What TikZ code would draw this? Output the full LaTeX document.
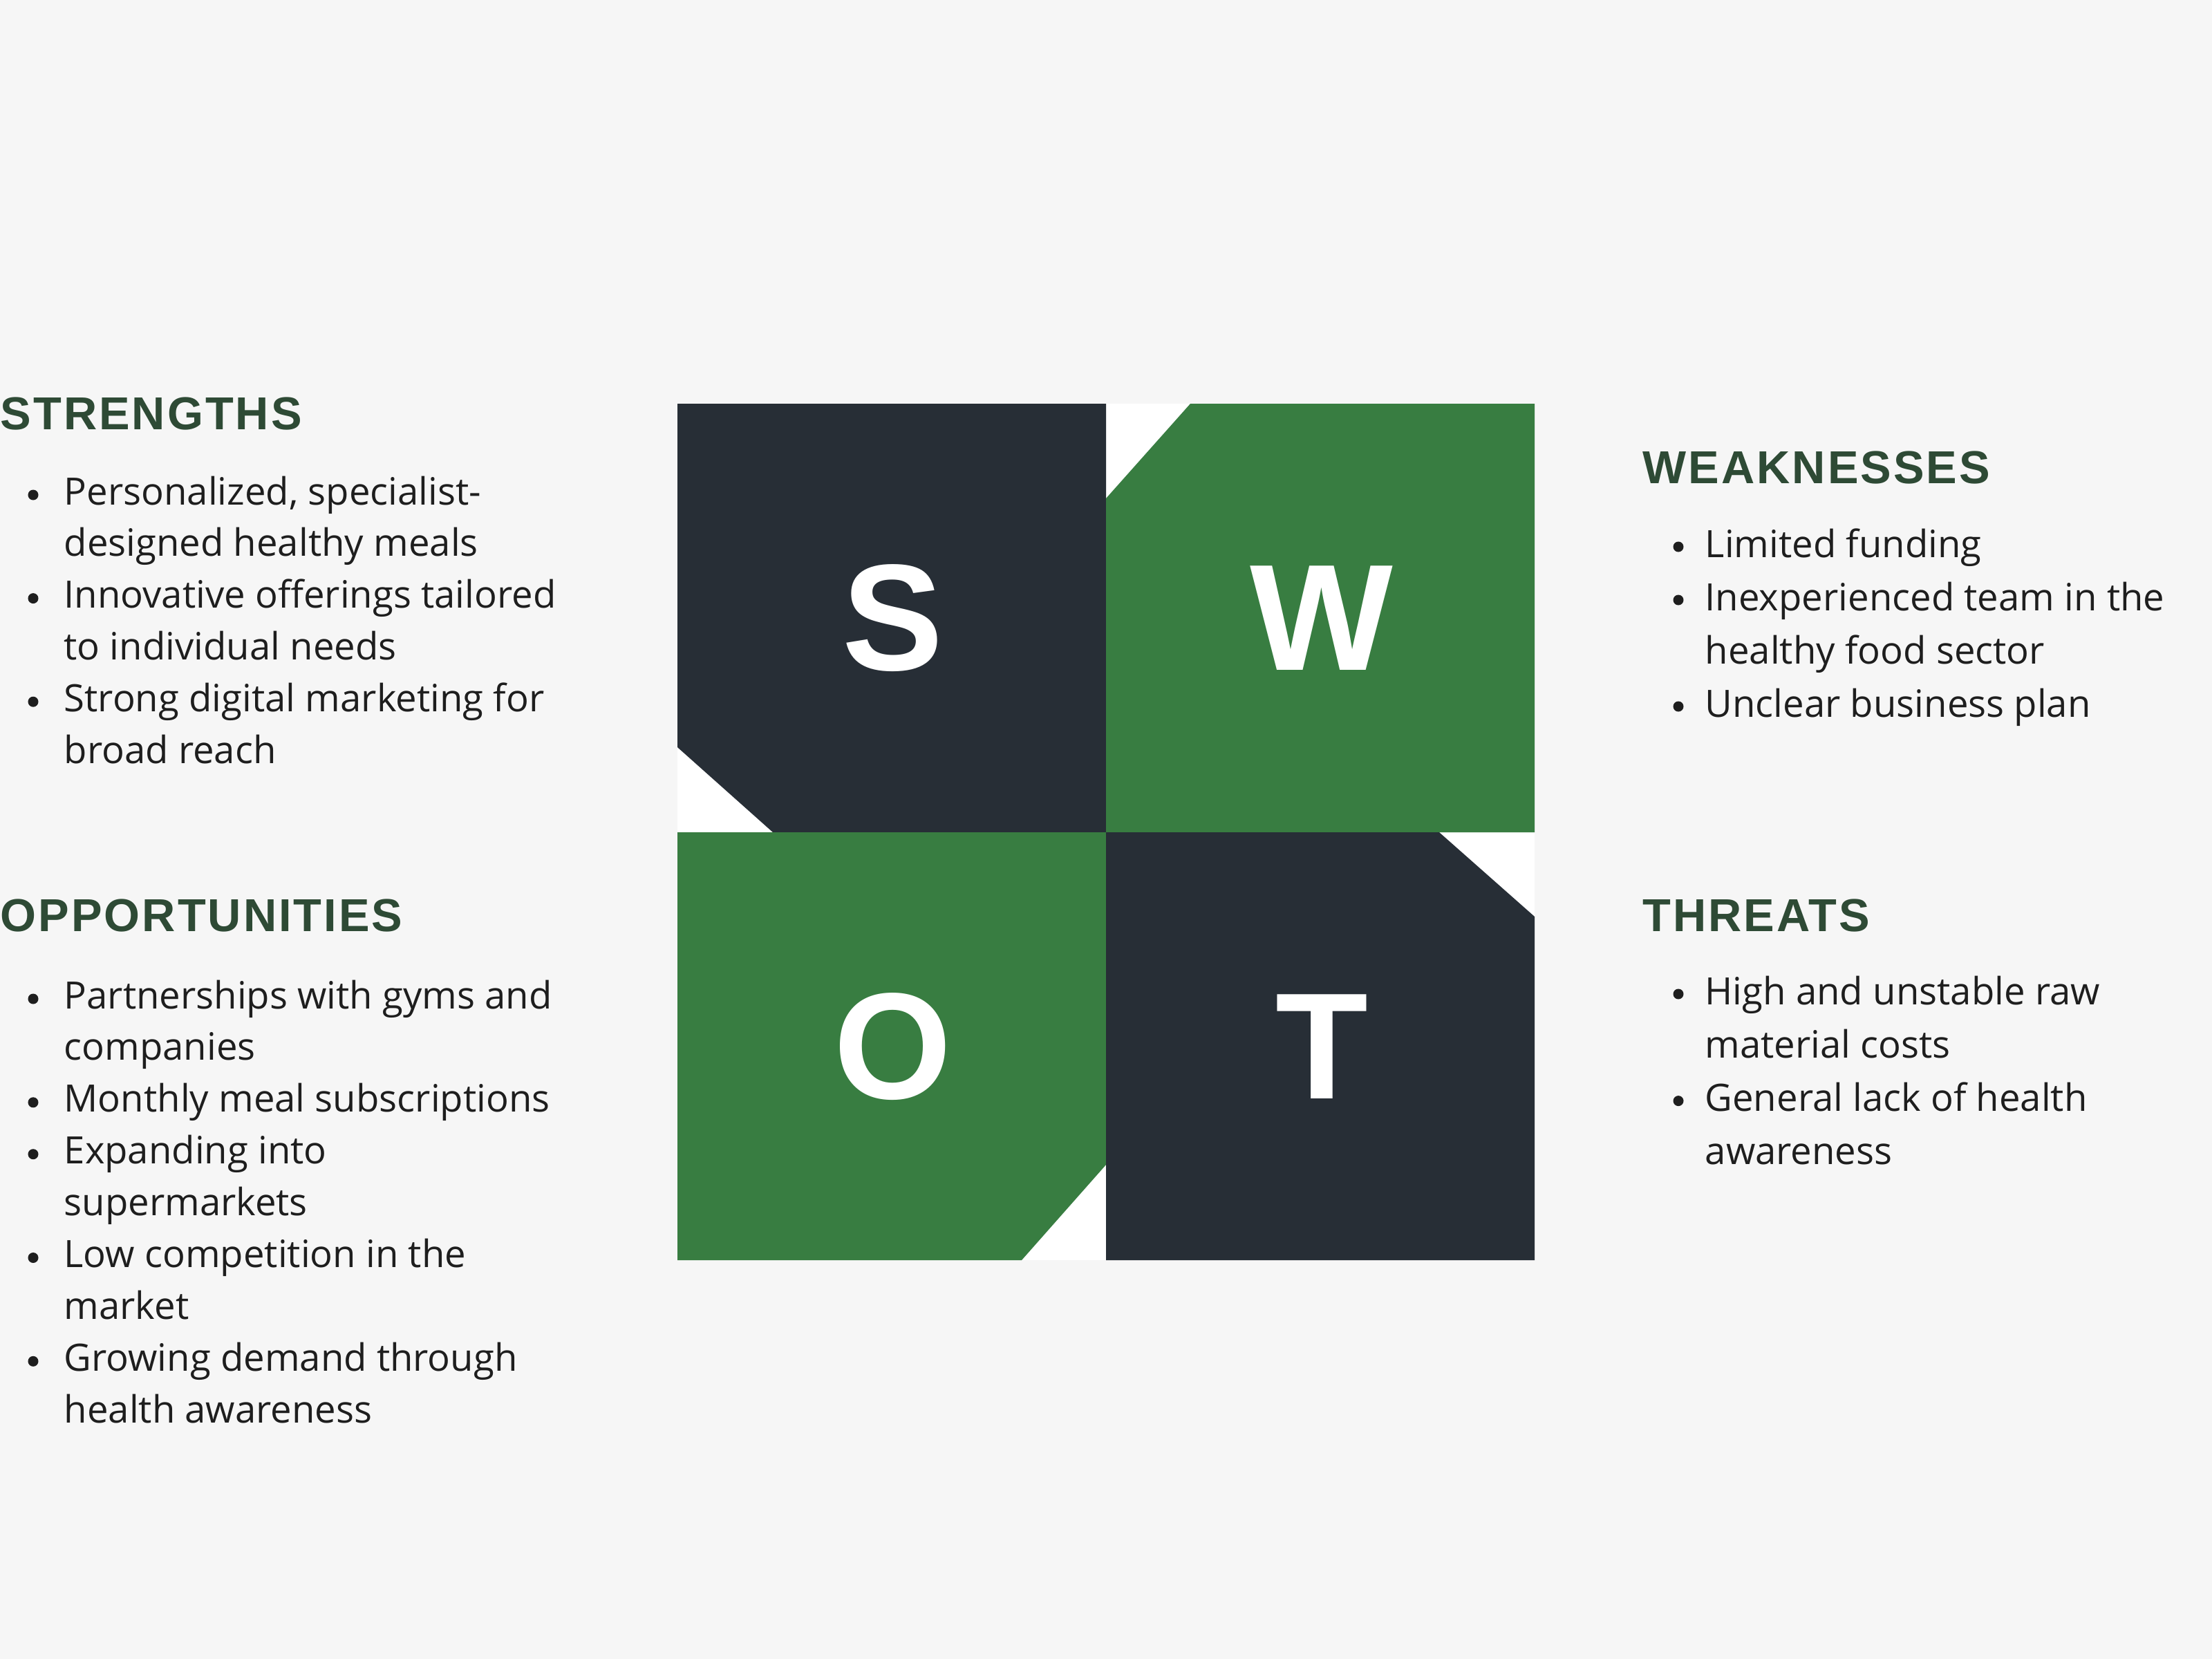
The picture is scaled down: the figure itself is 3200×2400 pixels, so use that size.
\documentclass[tikz,border=0pt]{standalone}
\usepackage{fontspec}
\setmainfont{Open Sans}
\newfontfamily\headfont{Liberation Sans}[LetterSpace=4.5]
\newfontfamily\letterfont{Liberation Sans}
\definecolor{SwotPaper}{HTML}{F6F6F6}
\definecolor{SwotDark}{HTML}{272E36}
\definecolor{SwotGreen}{HTML}{387D41}
\definecolor{SwotHead}{HTML}{2E4A35}
\definecolor{SwotInk}{HTML}{1E1E1E}

\begin{document}
\begin{tikzpicture}[x=0.01cm, y=-0.01cm,
    heading/.style={anchor=base west, inner sep=0pt, text=SwotHead,
        font=\headfont\bfseries\fontsize{19}{23}\selectfont},
    item/.style={anchor=base west, inner sep=0pt, text=SwotInk,
        font=\fontsize{15.5}{18}\selectfont},
    dot/.style={circle, fill=SwotInk, inner sep=0pt, minimum size=0.15cm},
    bigletter/.style={text=white, inner sep=0pt,
        font=\letterfont\bfseries\fontsize{62.3}{70}\selectfont}]

    % Background (fixes the page size)
    \fill[SwotPaper] (0,0) rectangle (3200,2400);

    % ========== SWOT square ==========
    \fill[white] (980,584) rectangle (2220,1823);
    % S
    \fill[SwotDark] (980,584) -- (1600,584) -- (1600,1204) -- (1118,1204) -- (980,1081) -- cycle;
    % W
    \fill[SwotGreen] (1600,721) -- (1722,584) -- (2220,584) -- (2220,1204) -- (1600,1204) -- cycle;
    % O
    \fill[SwotGreen] (980,1204) -- (1600,1204) -- (1600,1685) -- (1478,1823) -- (980,1823) -- cycle;
    % T
    \fill[SwotDark] (1600,1204) -- (2082,1204) -- (2220,1326) -- (2220,1823) -- (1600,1823) -- cycle;

    \node[bigletter] (S) at (1292,894) {S};
    \node[bigletter] (W) at (1912,894) {W};
    \node[bigletter] (O) at (1292,1514) {O};
    \node[bigletter] (T) at (1912,1514) {T};

    % ========== LEFT: Strengths ==========
    \node[heading] (strengths) at (0,621) {STRENGTHS};
    \foreach \txt/\b [count=\i] in {{Personalized, specialist-}/1, {designed healthy meals}/0,
        {Innovative offerings tailored}/1, {to individual needs}/0,
        {Strong digital marketing for}/1, {broad reach}/0} {
        \node[item] (str-\i) at (92,{730+74.8*(\i-1)}) {\txt};
        \ifnum\b=1 \node[dot] (str-dot-\i) at (48,{716+74.8*(\i-1)}) {}; \fi
    }

    % ========== LEFT: Opportunities ==========
    \node[heading] (opportunities) at (0,1347) {OPPORTUNITIES};
    \foreach \txt/\b [count=\i] in {{Partnerships with gyms and}/1, {companies}/0,
        {Monthly meal subscriptions}/1, {Expanding into}/1, {supermarkets}/0,
        {Low competition in the}/1, {market}/0,
        {Growing demand through}/1, {health awareness}/0} {
        \node[item] (opp-\i) at (92,{1459+74.9*(\i-1)}) {\txt};
        \ifnum\b=1 \node[dot] (opp-dot-\i) at (48,{1445+74.9*(\i-1)}) {}; \fi
    }

    % ========== RIGHT: Weaknesses ==========
    \node[heading] (weaknesses) at (2376,699) {WEAKNESSES};
    \foreach \txt/\b [count=\i] in {{Limited funding}/1, {Inexperienced team in the}/1,
        {healthy food sector}/0, {Unclear business plan}/1} {
        \node[item] (weak-\i) at (2466,{806+77*(\i-1)}) {\txt};
        \ifnum\b=1 \node[dot] (weak-dot-\i) at (2428,{791+77*(\i-1)}) {}; \fi
    }

    % ========== RIGHT: Threats ==========
    \node[heading] (threats) at (2376,1347) {THREATS};
    \foreach \txt/\b [count=\i] in {{High and unstable raw}/1, {material costs}/0,
        {General lack of health}/1, {awareness}/0} {
        \node[item] (thr-\i) at (2466,{1453+77.3*(\i-1)}) {\txt};
        \ifnum\b=1 \node[dot] (thr-dot-\i) at (2428,{1438+77.3*(\i-1)}) {}; \fi
    }

\end{tikzpicture}
\end{document}
